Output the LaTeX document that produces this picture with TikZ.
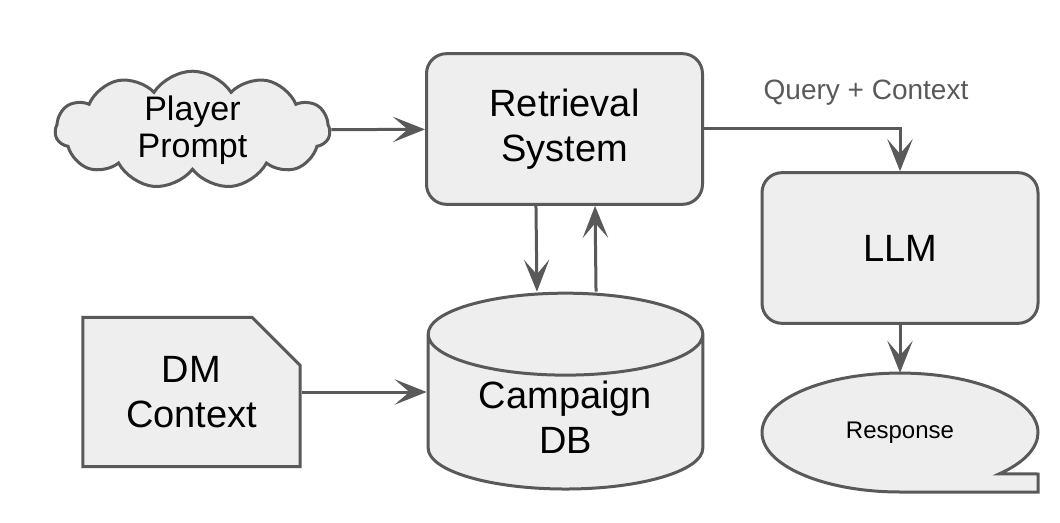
\documentclass[tikz,border=0pt]{standalone}
\usepackage{fontspec}
\setmainfont{Liberation Sans}
\usepackage{tikz}
\usetikzlibrary{arrows.meta, positioning, shapes.geometric, shapes.symbols, shapes.misc, calc}
\definecolor{boxline}{HTML}{595959}
\definecolor{boxfill}{HTML}{EEEEEE}
\tikzset{
  block/.style={rectangle, rounded corners=15pt, draw=boxline, fill=boxfill,
                line width=2.25pt, minimum width=207pt, minimum height=113pt,
                align=center, font=\fontsize{28.5}{34}\selectfont},
  cloudbox/.style={cloud, cloud puffs=11, cloud puff arc=115, cloud ignores aspect,
                draw=boxline, fill=boxfill, line width=2.25pt, inner sep=0pt,
                minimum width=206pt, minimum height=82pt,
                align=center, font=\fontsize{25.5}{28}\selectfont},
  dbbox/.style={cylinder, shape border rotate=90, aspect=0.45, draw=boxline,
                fill=boxfill, line width=2.25pt, minimum width=206pt,
                minimum height=142pt, align=center,
                font=\fontsize{28.5}{34}\selectfont},
  docbox/.style={chamfered rectangle, chamfered rectangle corners=north east,
                chamfered rectangle xsep=18pt, chamfered rectangle ysep=18pt,
                draw=boxline, fill=boxfill, line width=2.25pt,
                minimum width=163pt, minimum height=112pt,
                align=center, font=\fontsize{28.5}{34}\selectfont},
  bubble/.style={draw=boxline, fill=boxfill, line width=2.25pt},
  bubbletext/.style={ellipse, minimum width=207pt, minimum height=89pt,
                font=\fontsize{18}{22}\selectfont},
  flowlabel/.style={text=boxline, font=\fontsize{21}{24}\selectfont},
  flow/.style={line width=2.25pt, draw=boxline,
               -{Stealth[length=24pt, width=19pt, inset=11pt]}},
}

\begin{document}
\begin{tikzpicture}[x=0.75pt, y=0.75pt]
    \useasboundingbox (0,0) rectangle (1060,522);
    % Inputs and stores
    \node[cloudbox] (prompt) at (192.5,392) {Player\\Prompt};
    \node[block]    (ret)    at (564.5,393) {Retrieval\\System};
    \node[docbox]   (dm)     at (191.5,130) {DM\\Context};
    \node[dbbox]    (db)     at (565.5,104.5) {Campaign\\DB};
    \node[block]    (llm)    at (900,274)   {LLM};
    % Speech bubble for the answer
    \coordinate (bub) at (900,30);
    \draw[bubble] (bub) arc[start angle=270, end angle=-44,
        x radius=103.5pt, y radius=44.6pt] -- (1038,48) -- (1038,30) -- cycle;
    \node[bubbletext] (resp) at (900,89.5) {Response};
    % Connectors
    \draw[flow] (prompt) -- (ret);
    \draw[flow] (ret.east) -| (llm.north);
    \node[flowlabel] (qc) at (866,429) {Query + Context};
    \draw[flow] ([xshift=-21.4pt]ret.south) -- ([xshift=-21.4pt]db.top);
    \draw[flow] ([xshift=22.9pt]db.top) -- ([xshift=22.9pt]ret.south);
    \draw[flow] (dm.east) -- (dm.east -| db.west);
    \draw[flow] (llm.south) -- (resp.north);
  \end{tikzpicture}
\end{document}
